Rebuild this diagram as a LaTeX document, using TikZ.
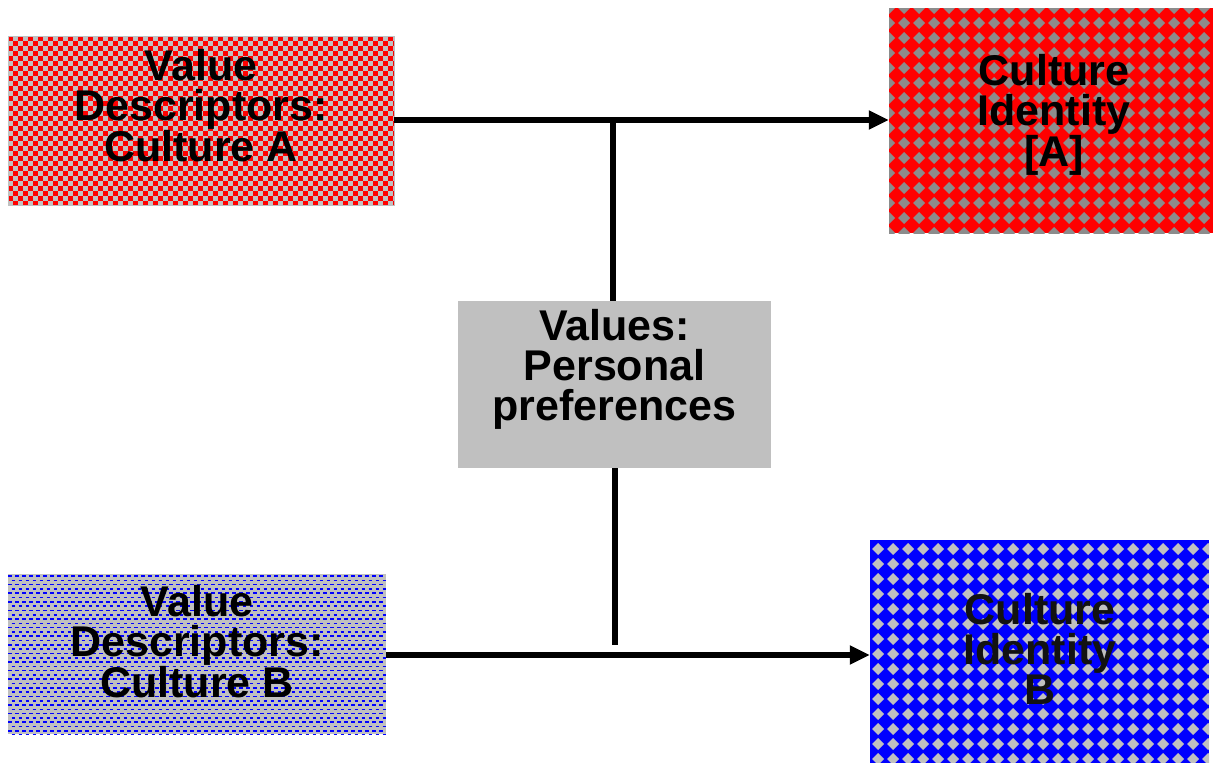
\documentclass[tikz,border=0pt]{standalone}
\usepackage{fontspec}
\setmainfont{Liberation Sans}
\usetikzlibrary{arrows.meta}
\definecolor{lgray}{HTML}{C0C0C0}
\definecolor{dgray}{HTML}{8C8C8C}
\definecolor{pred}{HTML}{FF0000}
\definecolor{pblue}{HTML}{0000FF}
\tikzset{
  lbl/.style={font=\fontsize{43}{40}\selectfont\bfseries, align=center, text=black, inner sep=0pt},
  conn/.style={line width=6pt, draw=black},
  arr/.style={conn, -{Triangle[length=20pt,width=18pt]}},
}
\begin{document}
\begin{tikzpicture}[x=1pt,y=-1pt]
\useasboundingbox (0,0) rectangle (1213,763);
% --- Box A: red checkerboard
\begin{scope}
\clip (8,36) rectangle (394,205);
\fill[lgray] (8,36) rectangle (394,205);
\foreach \r in {0,...,34}{
  \pgfmathsetmacro{\yy}{36+\r*5+2.5}
  \pgfmathsetmacro{\ph}{mod(\r,2)*5}
  \draw[pred, line width=5pt, dash pattern=on 5pt off 5pt, dash phase=\ph pt] (8,\yy) -- (394,\yy);
}
\end{scope}
\node[draw=lgray, line width=0.5pt, minimum width=386pt, minimum height=169pt, inner sep=0pt] (va) at (201,120.5) {};
\node[lbl] at (201,106) {Value\\Descriptors:\\Culture A};
% --- Culture Identity A
\begin{scope}
\clip (889,8) rectangle (1213,233);
\fill[pred] (889,8) rectangle (1213,233);
\foreach \i in {0,...,22}{
  \foreach \j in {0,...,15}{
    \fill[dgray] ({889+\i*15},{8+\j*15-6}) -- ++(6,6) -- ++(-6,6) -- ++(-6,-6) -- cycle;
  }
}
\end{scope}
\node[minimum width=324pt, minimum height=225pt, inner sep=0pt] (ca) at (1051,120.5) {};
\node[lbl] at (1054,115) {Culture\\Identity\\{}[A]};
% --- Values
\node[fill=lgray, minimum width=313pt, minimum height=167pt, inner sep=0pt] (v) at (614.5,384.5) {};
\node[lbl] at (614.5,369) {Values:\\Personal\\preferences};
% --- Box B: blue dashes on gray
\begin{scope}
\clip (8,574) rectangle (386,734);
\fill[lgray] (8,574) rectangle (386,734);
\foreach \r in {0,...,37}{
  \pgfmathsetmacro{\yy}{574+\r*4.3+2}
  \pgfmathsetmacro{\ph}{mod(\r,2)*3.5}
  \draw[pblue, line width=1.6pt, dash pattern=on 3.5pt off 3.5pt, dash phase=\ph pt] (8,\yy) -- (386,\yy);
}
\end{scope}
\node[minimum width=378pt, minimum height=160pt, inner sep=0pt] (vb) at (197,654) {};
\node[lbl] at (197,642) {Value\\Descriptors:\\Culture B};
% --- Culture Identity B
\begin{scope}
\clip (870,540) rectangle (1209,763);
\fill[pblue] (870,540) rectangle (1209,763);
\foreach \i in {0,...,23}{
  \foreach \j in {0,...,15}{
    \fill[lgray] ({878+\i*15},{549+\j*15-6}) -- ++(6,6) -- ++(-6,6) -- ++(-6,-6) -- cycle;
  }
}
\end{scope}
\node[minimum width=339pt, minimum height=223pt, inner sep=0pt] (cb) at (1039.5,651.5) {};
\node[lbl, text=black!93] at (1040,649) {Culture\\Identity\\B};
% --- connectors
\coordinate (j1) at (613,120);
\coordinate (j2) at (615,645);
\draw[arr] (va.east |- j1) -- (ca.west |- j1);
\draw[conn] (j1) -- (v.north -| j1);
\draw[conn] (v.south -| j2) -- (j2);
\draw[arr] (vb.east |- 0,655) -- (cb.west |- 0,655);
\end{tikzpicture}
\end{document}
